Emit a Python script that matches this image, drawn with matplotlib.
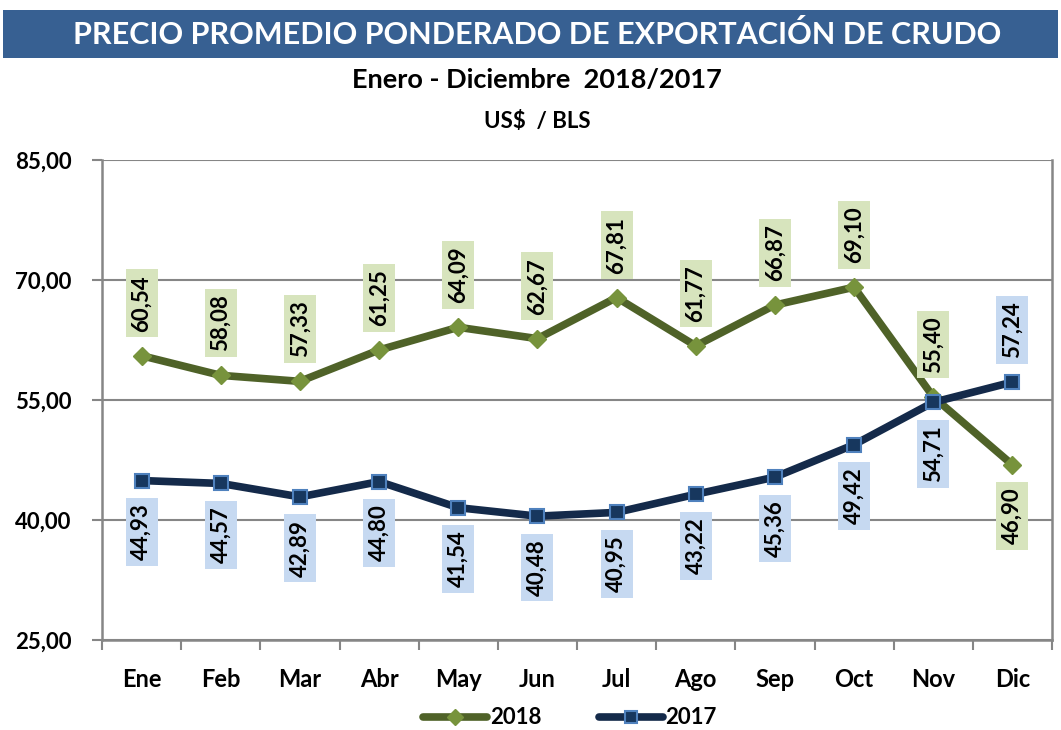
import matplotlib
matplotlib.use("Agg")
import matplotlib.pyplot as plt
from matplotlib.patches import Rectangle
from matplotlib.lines import Line2D

plt.rcParams['font.family'] = ['Lato', 'DejaVu Sans']

months = ["Ene", "Feb", "Mar", "Abr", "May", "Jun", "Jul", "Ago", "Sep", "Oct", "Nov", "Dic"]
v2018 = [60.54, 58.08, 57.33, 61.25, 64.09, 62.67, 67.81, 61.77, 66.87, 69.10, 55.40, 46.90]
v2017 = [44.93, 44.57, 42.89, 44.80, 41.54, 40.48, 40.95, 43.22, 45.36, 49.42, 54.71, 57.24]
pos2018 = ["above"] * 11 + ["below"]
pos2017 = ["below"] * 11 + ["above"]
yticks = [25, 40, 55, 70, 85]

W, H = 1061, 730
fig = plt.figure(figsize=(W / 100, H / 100), dpi=100)

# title band
fig.patches.append(Rectangle((3 / W, 1 - 58 / H), 1055 / W, 48 / H, transform=fig.transFigure,
                             facecolor="#376092", edgecolor="none", zorder=0))
fig.text(537 / W, 1 - 35 / H, "PRECIO PROMEDIO PONDERADO DE EXPORTACIÓN DE CRUDO",
         color="white", fontsize=22, fontweight="bold", ha="center", va="center")
fig.text(537 / W, 1 - 80 / H, "Enero - Diciembre  2018/2017", color="black",
         fontsize=19.5, fontweight="bold", ha="center", va="center")
fig.text(537 / W, 1 - 122 / H, "US$  / BLS", color="black",
         fontsize=16, fontweight="bold", ha="center", va="center")

ax = fig.add_axes([102 / W, (H - 640) / H, 950 / W, 480 / H])
x = list(range(len(months)))
c18_line, c18_mk = "#4F6228", "#77933C"
c17_line, c17_mk, c17_edge = "#142A4A", "#17375E", "#4F81BD"

ax.plot(x, v2018, color=c18_line, lw=5.5, marker="D", ms=9, mfc=c18_mk, mec=c18_mk,
        solid_capstyle="round", zorder=4)
ax.plot(x, v2017, color=c17_line, lw=5.5, marker="s", ms=10, mfc=c17_mk, mec=c17_edge,
        mew=1.5, solid_capstyle="round", zorder=5)

def fmt(v):
    return f"{v:.2f}".replace(".", ",")

def label(xi, v, pos, bg):
    off = 24 if pos == "above" else -23
    ax.annotate(fmt(v), (xi, v), xytext=(0, off), textcoords="offset pixels",
                rotation=90, ha="center", va="bottom" if pos == "above" else "top",
                fontsize=16, fontweight="bold", color="black", zorder=6,
                bbox=dict(boxstyle="square,pad=0.25", facecolor=bg, edgecolor="none"))

for xi, v, p in zip(x, v2018, pos2018):
    label(xi, v, p, "#D7E4BD")
for xi, v, p in zip(x, v2017, pos2017):
    label(xi, v, p, "#C6D9F1")

ax.set_xlim(-0.5, len(months) - 0.5)
ax.set_ylim(25, 85)
ax.set_yticks(yticks)
ax.set_yticklabels([fmt(t) for t in yticks], fontsize=16, fontweight="bold")
ax.set_xticks(x)
ax.set_xticklabels(months, fontsize=17, fontweight="bold")
ax.set_xticks([i - 0.5 for i in range(len(months) + 1)], minor=True)
ax.tick_params(axis="x", which="major", length=0, pad=20)
ax.tick_params(axis="x", which="minor", length=7, width=1.5, color="#868686")
ax.tick_params(axis="y", length=7, width=1.5, color="#868686", pad=15)
ax.grid(axis="y", color="#868686", lw=1.5, zorder=1)
for s in ["left", "bottom", "right"]:
    ax.spines[s].set_color("#868686")
    ax.spines[s].set_linewidth(1.8)
ax.spines["top"].set_visible(False)
ax.set_axisbelow(True)

handles = [Line2D([], [], color=c18_line, lw=5.5, marker="D", ms=8, mfc=c18_mk, mec=c18_mk,
                  solid_capstyle="round"),
           Line2D([], [], color=c17_line, lw=5.5, marker="s", ms=9, mfc=c17_mk, mec=c17_edge,
                  mew=1.5, solid_capstyle="round")]
fig.legend(handles, ["2018", "2017"], loc="center", bbox_to_anchor=(570 / W, 1 - 718 / H),
           ncol=2, frameon=False, prop=dict(size=16, weight="bold"), handlelength=2.9,
           handletextpad=0.1, columnspacing=2.6)

fig.savefig("out.png", dpi=100)
